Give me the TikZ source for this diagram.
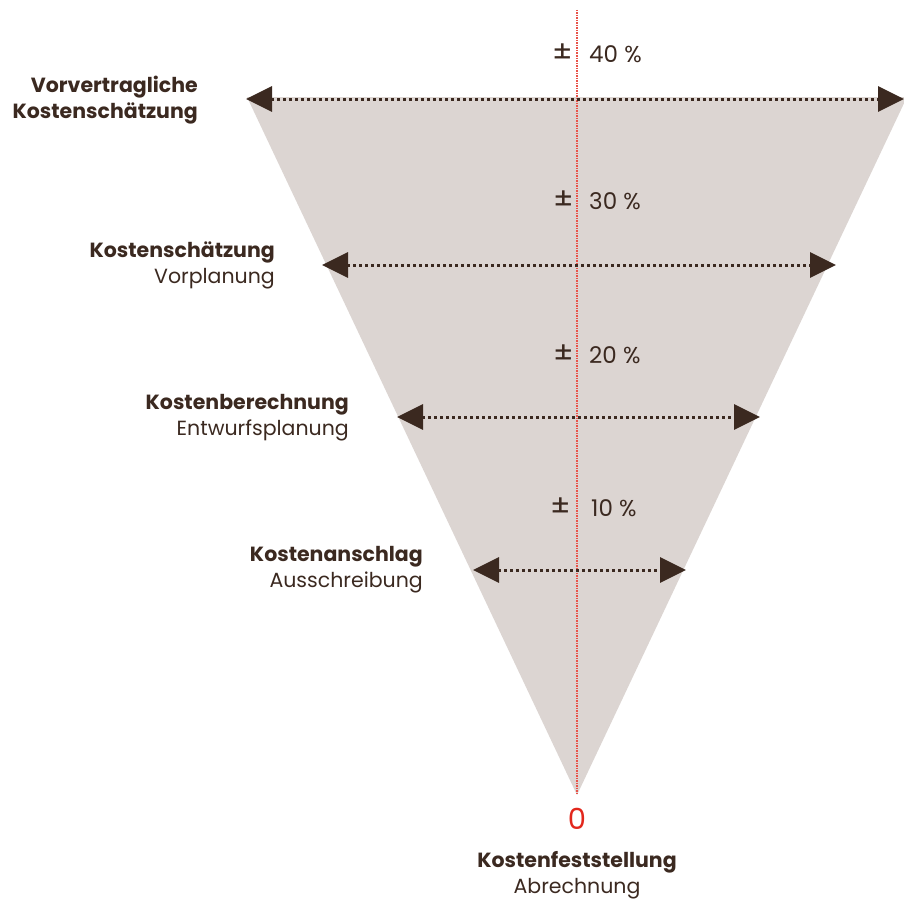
\documentclass[tikz,border=0pt]{standalone}
\usepackage{fontspec}
\setmainfont{Poppins}
\usetikzlibrary{positioning,arrows.meta}
\definecolor{Funnel}{HTML}{DCD5D2}
\definecolor{Ink}{HTML}{3B2920}
\definecolor{Zero}{HTML}{E2271C}

\begin{document}
\begin{tikzpicture}[
	x=1pt,y=-1pt,
	every node/.style={text=Ink,inner sep=0pt,font=\fontsize{20.5}{26}\selectfont},
	costrange/.style={
		draw=Ink,
		line width=3pt,
		dash pattern=on 3pt off 3pt,
		{Triangle[length=26pt,width=25pt]}-{Triangle[length=26pt,width=25pt]}
	},
	phase/.style={anchor=east,align=right},
	pct/.style={anchor=west,font=\fontsize{23}{26}\selectfont},
	pmsign/.style={anchor=center,font=\fontsize{30}{30}\selectfont}
	]
	
	\useasboundingbox (0,0) rectangle (904,899);
	
	% Funnel
	\fill[Funnel] (247,97) -- (907,97) -- (577,795) -- cycle;
	
	% Centre line
	\coordinate (top) at (577,10);
	\coordinate (tip) at (577,795);
	\draw[Zero!80,line width=1.2pt,dash pattern=on 1.5pt off 1pt] (top) -- (tip);
	
	% Ranges
	\coordinate (l40) at (246,99);
	\coordinate (r40) at (904,99);
	\coordinate (l30) at (322,265);
	\coordinate (r30) at (836,265);
	\coordinate (l20) at (397,417);
	\coordinate (r20) at (760,417);
	\coordinate (l10) at (473,570);
	\coordinate (r10) at (686,570);
	\draw[costrange] (l40) -- (r40);
	\draw[costrange] (l30) -- (r30);
	\draw[costrange] (l20) -- (r20);
	\draw[costrange] (l10) -- (r10);
	
	% Tolerances
	\node[pmsign] (pm40) at (563,53) {±};
	\node[pct] (p40) at (589,54) {40 \%};
	\node[pmsign] (pm30) at (564,200) {±};
	\node[pct] (p30) at (589,201) {30 \%};
	\node[pmsign] (pm20) at (564,354) {±};
	\node[pct] (p20) at (589,355) {20 \%};
	\node[pmsign] (pm10) at (561,507) {±};
	\node[pct] (p10) at (591,508) {10 \%};
	
	% Phases
	\node[phase] (vorvertrag) at (198,100)
	{\textbf{Vorvertragliche}\\\textbf{Kostenschätzung}};
	\node[phase] (schaetzung) at (275,265)
	{\textbf{Kostenschätzung}\\Vorplanung};
	\node[phase] (berechnung) at (349,418)
	{\textbf{Kostenberechnung}\\Entwurfsplanung};
	\node[phase] (anschlag) at (423,570)
	{\textbf{Kostenanschlag}\\Ausschreibung};
	
	% Zero point
	\node[text=Zero,font=\fontsize{29}{30}\selectfont] (zero) at (577,819) {0};
	\node[align=center] (feststellung) at (577,875)
	{\textbf{Kostenfeststellung}\\Abrechnung};
	
\end{tikzpicture}
\end{document}
